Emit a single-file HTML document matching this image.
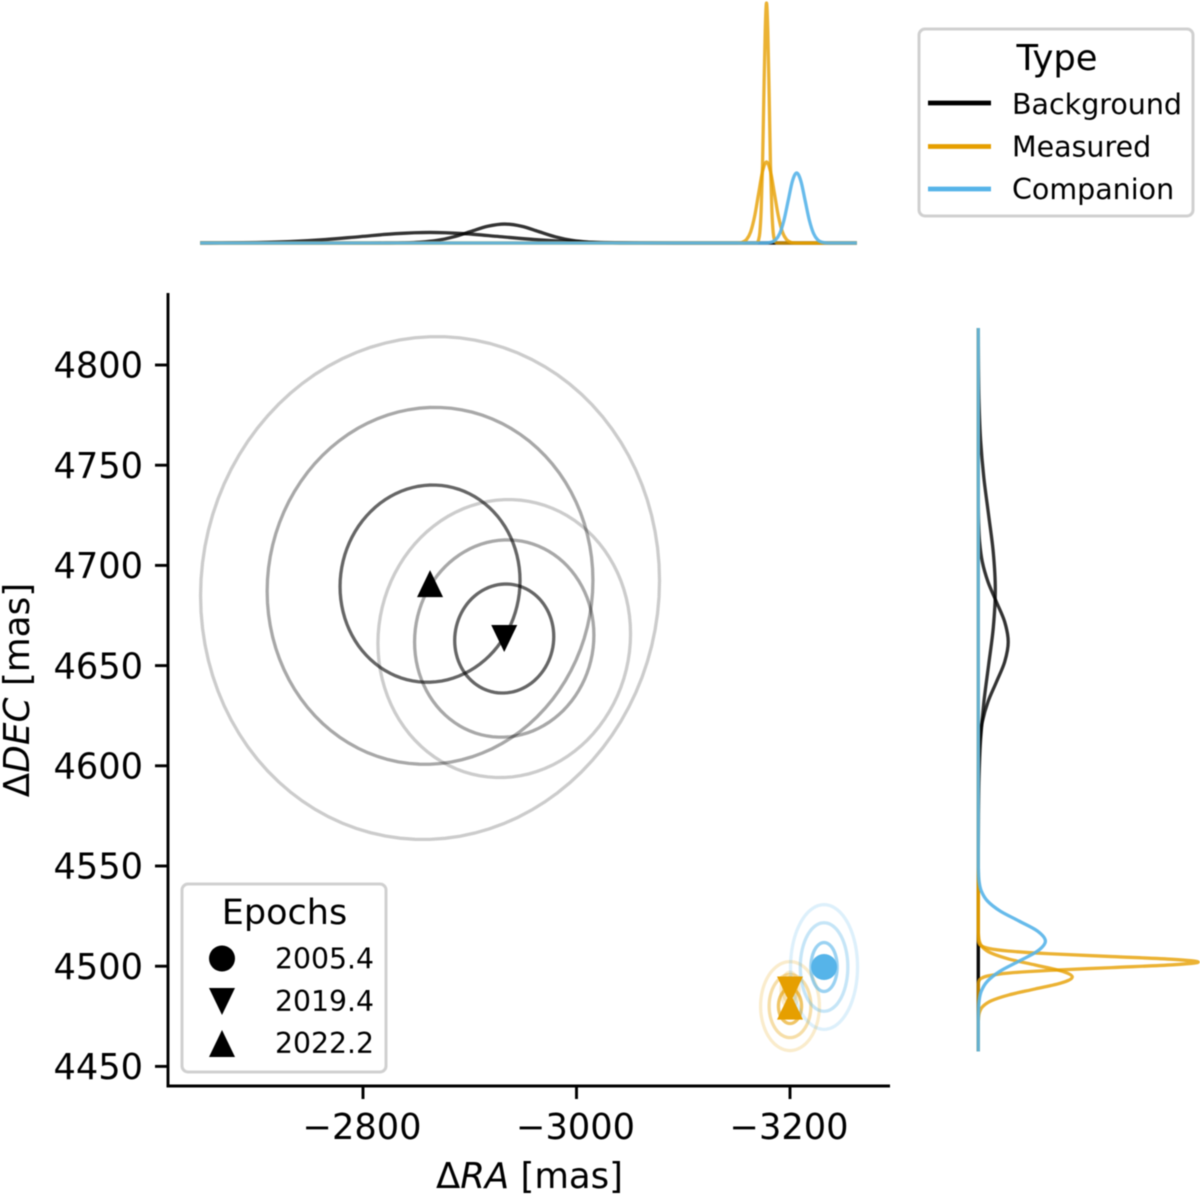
<!DOCTYPE html>
<html lang="en">
<head>
<meta charset="utf-8">
<title>Proper motion analysis chart</title>
<style>
html,body{margin:0;padding:0;background:#fff;}
svg{display:block;filter:blur(0.5px);}
text{font-family:"DejaVu Sans","Liberation Sans",sans-serif;fill:#000;}
</style>
</head>
<body>
<svg id="chart" xmlns="http://www.w3.org/2000/svg" width="1200" height="1195" viewBox="0 0 1200 1195">
  <rect x="0" y="0" width="1200" height="1195" fill="#fff"/>
  <g id="top-kde"></g>
  <g id="right-kde"></g>
  <g id="ellipses"></g>
  <g id="markers"></g>
  <g id="axes">
    <line x1="168" y1="293" x2="168" y2="1087.4" stroke="#000" stroke-width="2.9"/>
    <line x1="166.6" y1="1086" x2="890" y2="1086" stroke="#000" stroke-width="2.9"/>
    <text x="529.5" y="1188" font-size="35.5" text-anchor="middle">Δ<tspan font-style="italic">RA</tspan> [mas]</text>
    <text transform="translate(29,690) rotate(-90)" font-size="35.8" text-anchor="middle">Δ<tspan font-style="italic">DEC</tspan> [mas]</text>
  </g>
  <g>
    <rect x="182" y="884" width="204" height="188" rx="6" fill="#fff" fill-opacity="0.8" stroke="#d0d0d0" stroke-width="3"/>
    <text x="284.5" y="924" font-size="35" text-anchor="middle">Epochs</text>
    <circle cx="222" cy="958.5" r="13"/>
    <polygon points="209,988 235,988 222,1015"/>
    <polygon points="209,1057 235,1057 222,1030"/>
    <text x="275" y="968.5" font-size="28.3">2005.4</text>
    <text x="275" y="1011" font-size="28.3">2019.4</text>
    <text x="275" y="1053" font-size="28.3">2022.2</text>
  </g>
  <g>
    <rect x="919" y="29" width="274" height="187" rx="6" fill="#fff" fill-opacity="0.8" stroke="#d0d0d0" stroke-width="3"/>
    <text x="1057" y="70" font-size="35.3" text-anchor="middle">Type</text>
    <line x1="928" y1="103" x2="991" y2="103" stroke="#000" stroke-width="4.8"/>
    <line x1="928" y1="146.5" x2="991" y2="146.5" stroke="#E69F00" stroke-width="4.8"/>
    <line x1="928" y1="189" x2="991" y2="189" stroke="#56B4E9" stroke-width="4.8"/>
    <text x="1012" y="114" font-size="28.5">Background</text>
    <text x="1012" y="156.5" font-size="28.5">Measured</text>
    <text x="1012" y="199" font-size="28.5">Companion</text>
  </g>
</svg>
<script>
// ---------- axis tick values ----------
const xTickValues = [-2800, -3000, -3200];
const yTickValues = [4450, 4500, 4550, 4600, 4650, 4700, 4750, 4800];

// ---------- measurements: one entry per epoch position (mas) ----------
const pointNames = ['background-2022', 'background-2019', 'measured-2019', 'measured-2022', 'companion-2005'];
const pointTypes = ['background', 'background', 'measured', 'measured', 'companion'];
const pointShapes = ['up', 'down', 'down', 'up', 'circle'];
const pointRa = [-2862.8, -2932.3, -3200, -3200, -3231.9];
const pointDec = [4690.9, 4663.5, 4488.1, 4480.1, 4499.6];
const pointDecDrift = [-2.2, 0, 0, 0, 0];
const pointRaSemi = [84.3, 46.4, 3.3, 10.8, 12.3];
const pointDecSemi = [49.2, 27.2, 3.5, 8.7, 12.2];
const pointCorr = [-0.03, -0.035, 0, 0, 0];
const contourLevels = [1, 1.81, 2.55];

// ---------- top density panel: RA (mas) and density (% of tallest peak) ----------
const topBg22Ra = [-2632,-2653,-2688,-2723,-2758,-2793,-2828,-2863,-2898,-2933,-2968,-3003,-3038,-3073,-3108,-3292];
const topBg22Den = [0.02,0.05,0.19,0.6,1.43,2.67,3.88,4.4,3.88,2.67,1.43,0.6,0.19,0.05,0.01,0];
const topBg19Ra = [-2632,-2802,-2819,-2836,-2853,-2870,-2887,-2904,-2921,-2938,-2955,-2972,-2989,-3006,-3023,-3040,-3057,-3074,-3292];
const topBg19Den = [0,0,0.02,0.09,0.35,1.07,2.57,4.79,6.97,7.9,6.97,4.79,2.57,1.07,0.35,0.09,0.02,0,0];
const topMeas19Ra = [-2632,-3190,-3191.8,-3193.1,-3194.5,-3195.8,-3197.2,-3198.5,-3199.9,-3201.2,-3202.5,-3203.9,-3205.2,-3206.6,-3207.9,-3209.3,-3210.6,-3212,-3292];
const topMeas19Den = [0,0,0.22,1.11,4.39,13.5,32.5,60.7,88.3,100,88.3,60.7,32.5,13.5,4.39,1.11,0.22,0,0];
const topMeas22Ra = [-2632,-3169,-3173.2,-3177.2,-3181.2,-3185.2,-3189.2,-3193.2,-3197.2,-3201.2,-3205.2,-3209.2,-3213.2,-3217.2,-3221.2,-3225.2,-3229.2,-3233,-3292];
const topMeas22Den = [0,0,0.07,0.38,1.48,4.57,11,20.5,29.8,33.8,29.8,20.5,11,4.57,1.48,0.38,0.07,0,0];
const topCompRa = [-2632,-3197,-3201.75,-3206,-3210.25,-3214.5,-3218.75,-3223,-3227.25,-3231.5,-3235.75,-3240,-3244.25,-3248.5,-3252.75,-3257,-3261.25,-3266,-3292];
const topCompDen = [0,0,0.06,0.32,1.28,3.95,9.48,17.7,25.8,29.2,25.8,17.7,9.48,3.95,1.28,0.32,0.06,0,0];

// ---------- right density panel: DEC (mas) and density (% of tallest peak) ----------
const rightBg22Dec = [4832,4811.8,4791.5,4771.1,4750.8,4730.4,4710,4689.7,4669.3,4649,4628.6,4608.3,4587.9,4567.6,4547.2,4439];
const rightBg22Den = [0.02,0.09,0.34,1.05,2.51,4.69,6.82,7.73,6.82,4.69,2.51,1.05,0.34,0.09,0.02,0];
const rightBg19Dec = [4832,4737.5,4726.6,4715.8,4704.9,4694.1,4683.2,4672.4,4661.5,4650.7,4639.8,4629,4618.1,4607.3,4596.4,4585.6,4439];
const rightBg19Den = [0,0.03,0.15,0.6,1.84,4.42,8.25,12,13.6,12,8.25,4.42,1.84,0.6,0.15,0.03,0];
const rightMeas19Dec = [4832,4499.5,4498.1,4496.6,4495.1,4493.6,4492.1,4490.6,4489.1,4487.6,4486.1,4484.6,4483.1,4481.6,4480.1,4478.6,4477.1,4475.7,4439];
const rightMeas19Den = [0,0,0.22,1.11,4.39,13.5,32.5,60.7,88.3,100,88.3,60.7,32.5,13.5,4.39,1.11,0.22,0,0];
const rightMeas22Dec = [4832,4505.5,4502.25,4499,4495.75,4492.5,4489.25,4486,4482.75,4479.5,4476.25,4473,4469.75,4466.5,4463.25,4460,4456.75,4453.5,4439];
const rightMeas22Den = [0,0,0.09,0.47,1.87,5.78,13.9,25.9,37.7,42.7,37.7,25.9,13.9,5.78,1.87,0.47,0.09,0,0];
const rightCompDec = [4832,4542,4537.15,4531.7,4526.25,4520.8,4515.35,4509.9,4504.45,4499,4493.55,4488.1,4482.65,4477.2,4471.75,4466.3,4460.85,4456,4439];
const rightCompDen = [0,0,0.07,0.34,1.34,4.13,9.9,18.5,26.9,30.5,26.9,18.5,9.9,4.13,1.34,0.34,0.07,0,0];

// ---------- scales and styles ----------
const SVG_NS = 'http://www.w3.org/2000/svg';
const typeColor = {background: '#000000', measured: '#E69F00', companion: '#56B4E9'};
const typeOpacity = {background: 0.8, measured: 0.8, companion: 0.9};
const contourOpacity = [0.6, 0.34, 0.2];
const curveWidth = 3.3;

function xMain(ra) { return 363 + (-2800 - ra) * 1.0675; }
function yMain(dec) { return 365 + (4800 - dec) * 2.004; }
function xTop(ra) { return 430 + (-2863 - ra) * 0.995; }
function yTop(den) { return 243 - den * 2.4; }
function yRight(dec) { return 590 + (4689.7 - dec) * 1.841; }
function xRight(den) { return 978.3 + den * 2.2; }

function make(parent, tag) {
  const el = document.createElementNS(SVG_NS, tag);
  parent.appendChild(el);
  return el;
}

// Smooth function-of-position path through the samples (cubic Hermite).
function hermite(pos, val, horizontal) {
  const n = pos.length;
  const slope = [];
  for (let i = 0; i < n; i++) {
    const a = Math.max(i - 1, 0), b = Math.min(i + 1, n - 1);
    slope.push((val[b] - val[a]) / (pos[b] - pos[a]));
  }
  const P = (p, v) => horizontal ? (p.toFixed(2) + ' ' + v.toFixed(2)) : (v.toFixed(2) + ' ' + p.toFixed(2));
  let d = 'M' + P(pos[0], val[0]);
  for (let i = 0; i < n - 1; i++) {
    const h = (pos[i + 1] - pos[i]) / 3;
    d += 'C' + P(pos[i] + h, val[i] + slope[i] * h) + ' ' +
               P(pos[i + 1] - h, val[i + 1] - slope[i + 1] * h) + ' ' +
               P(pos[i + 1], val[i + 1]);
  }
  return d;
}

function drawCurve(parent, name, type, d) {
  const p = make(parent, 'path');
  
  
  p.setAttribute('d', d);
  p.setAttribute('fill', 'none');
  p.setAttribute('stroke', typeColor[type]);
  p.setAttribute('stroke-opacity', typeOpacity[type]);
  p.setAttribute('stroke-width', curveWidth);
}

// ---------- top densities ----------
const topGroup = document.getElementById('top-kde');
[
  ['top-density-background-2022', 'background', topBg22Ra, topBg22Den],
  ['top-density-background-2019', 'background', topBg19Ra, topBg19Den],
  ['top-density-measured-2019', 'measured', topMeas19Ra, topMeas19Den],
  ['top-density-measured-2022', 'measured', topMeas22Ra, topMeas22Den],
  ['top-density-companion-2005', 'companion', topCompRa, topCompDen]
].forEach(function (c) {
  drawCurve(topGroup, c[0], c[1], hermite(c[2].map(xTop), c[3].map(yTop), true));
});

// ---------- right densities ----------
const rightGroup = document.getElementById('right-kde');
[
  ['right-density-background-2022', 'background', rightBg22Dec, rightBg22Den],
  ['right-density-background-2019', 'background', rightBg19Dec, rightBg19Den],
  ['right-density-measured-2019', 'measured', rightMeas19Dec, rightMeas19Den],
  ['right-density-measured-2022', 'measured', rightMeas22Dec, rightMeas22Den],
  ['right-density-companion-2005', 'companion', rightCompDec, rightCompDen]
].forEach(function (c) {
  drawCurve(rightGroup, c[0], c[1], hermite(c[2].map(yRight), c[3].map(xRight), false));
});

// ---------- contour ellipses ----------
const ellipseGroup = document.getElementById('ellipses');
pointNames.forEach(function (name, i) {
  contourLevels.forEach(function (level, j) {
    const a = pointRaSemi[i] * level, b = pointDecSemi[i] * level;
    const rho = pointCorr[i], q = Math.sqrt(1 - rho * rho);
    const centerDec = pointDec[i] + pointDecDrift[i] * j / (contourLevels.length - 1);
    let d = '';
    for (let s = 0; s < 96; s++) {
      const t = s / 96 * Math.PI * 2;
      const ra = pointRa[i] + a * Math.cos(t);
      const dec = centerDec + b * (rho * Math.cos(t) + q * Math.sin(t));
      d += (s ? 'L' : 'M') + xMain(ra).toFixed(2) + ' ' + yMain(dec).toFixed(2);
    }
    const e = make(ellipseGroup, 'path');
    
    
    e.setAttribute('d', d + 'Z');
    e.setAttribute('fill', 'none');
    e.setAttribute('stroke', typeColor[pointTypes[i]]);
    e.setAttribute('stroke-opacity', contourOpacity[j]);
    e.setAttribute('stroke-width', curveWidth);
  });
});

// ---------- epoch markers ----------
const markerGroup = document.getElementById('markers');
pointNames.forEach(function (name, i) {
  const x = xMain(pointRa[i]), y = yMain(pointDec[i]);
  let m;
  if (pointShapes[i] === 'circle') {
    m = make(markerGroup, 'circle');
    m.setAttribute('cx', x);
    m.setAttribute('cy', y);
    m.setAttribute('r', 13);
  } else {
    const dir = pointShapes[i] === 'up' ? 1 : -1;
    m = make(markerGroup, 'polygon');
    m.setAttribute('points', (x - 13) + ',' + (y + 13.5 * dir) + ' ' + (x + 13) + ',' + (y + 13.5 * dir) + ' ' + x + ',' + (y - 13.5 * dir));
  }
  
  
  m.setAttribute('fill', typeColor[pointTypes[i]]);
});

// ---------- ticks ----------
const axesGroup = document.getElementById('axes');
xTickValues.forEach(function (v) {
  const x = xMain(v);
  const t = make(axesGroup, 'line');
  
  
  t.setAttribute('x1', x);
  t.setAttribute('x2', x);
  t.setAttribute('y1', 1086);
  t.setAttribute('y2', 1099);
  t.setAttribute('stroke', '#000');
  t.setAttribute('stroke-width', 2.9);
  const l = make(axesGroup, 'text');
  
  
  l.setAttribute('x', x - 1);
  l.setAttribute('y', 1139);
  l.setAttribute('font-size', 35.2);
  l.setAttribute('text-anchor', 'middle');
  l.textContent = '\u2212' + Math.abs(v);
});
yTickValues.forEach(function (v) {
  const y = yMain(v);
  const t = make(axesGroup, 'line');
  
  
  t.setAttribute('x1', 155);
  t.setAttribute('x2', 168);
  t.setAttribute('y1', y);
  t.setAttribute('y2', y);
  t.setAttribute('stroke', '#000');
  t.setAttribute('stroke-width', 2.9);
  const l = make(axesGroup, 'text');
  
  
  l.setAttribute('x', 143);
  l.setAttribute('y', y + 12.7);
  l.setAttribute('font-size', 35.2);
  l.setAttribute('text-anchor', 'end');
  l.textContent = String(v);
});
</script>
</body>
</html>
